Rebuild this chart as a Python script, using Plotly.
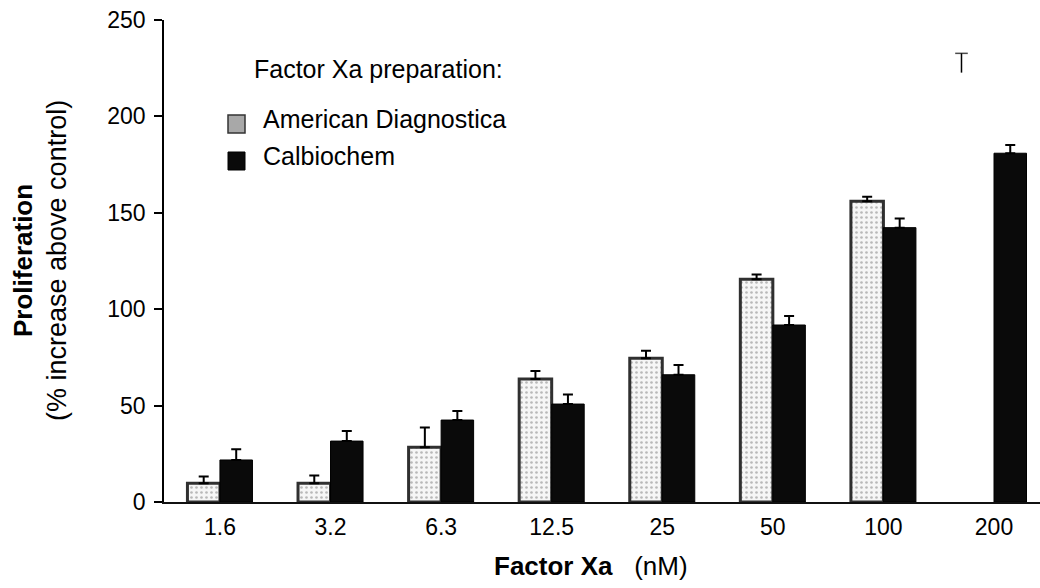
import plotly.graph_objects as go

# Factor Xa concentrations (nM) and proliferation (% increase above control)
doses = ["1.6", "3.2", "6.3", "12.5", "25", "50", "100", "200"]
american_diag = [9.7, 9.7, 28.4, 63.8, 74.5, 115.5, 156.0, None]
american_diag_err = [3.5, 4.0, 10.3, 4.1, 4.0, 2.5, 2.3, 0]
calbiochem = [21.8, 31.6, 42.5, 50.8, 66.0, 91.8, 142.3, 180.9]
calbiochem_err = [5.5, 5.2, 4.7, 5.0, 5.0, 4.7, 4.8, 4.3]

# lone error bar printed in the American Diagnostica slot at 200 nM
ad_200_top = 222.7
ad_200_err = 10.0

y_ticks = [0, 50, 100, 150, 200, 250]

W, H = 1040, 588
L, R, T, B = 164, 0, 20, 86
PW, PH = W - L - R, H - T - B
BAR_SLOT = 0.294  # width of one bar in category units
FONT = "Liberation Sans, Arial, sans-serif"


def px(x):
    return (x - L) / PW


def py(y):
    return (H - B - y) / PH


xs = list(range(len(doses)))

fig = go.Figure()

fig.add_trace(go.Bar(
    x=xs, y=american_diag, name="American Diagnostica",
    marker=dict(
        color="#f2f2f2",
        line=dict(color="#303030", width=3),
        pattern=dict(shape=".", fgcolor="#7a7a7a", bgcolor="#f6f6f6",
                     size=5, solidity=0.22),
    ),
    error_y=dict(type="data", array=american_diag_err,
                 arrayminus=[0] * len(doses), color="black",
                 thickness=2, width=5),
    showlegend=False,
))

fig.add_trace(go.Bar(
    x=xs, y=calbiochem, name="Calbiochem",
    marker=dict(color="#0a0a0a", line=dict(color="black", width=1)),
    error_y=dict(type="data", array=calbiochem_err,
                 arrayminus=[0] * len(doses), color="black",
                 thickness=2, width=5),
    showlegend=False,
))

# stem plus top cap of the lone error bar
x_lone = xs[-1] - BAR_SLOT
fig.add_trace(go.Scatter(
    x=[x_lone, x_lone], y=[ad_200_top, ad_200_top + ad_200_err],
    mode="lines+markers",
    line=dict(color="black", width=1.5),
    marker=dict(symbol="line-ew", size=[0, 9],
                line=dict(color="black", width=1.5)),
    showlegend=False, hoverinfo="skip",
))

# hand-built legend
shapes = [
    dict(type="rect", xref="paper", yref="paper",
         x0=px(228), x1=px(245), y0=py(133), y1=py(115),
         fillcolor="#a8a8a8", line=dict(color="#333", width=1.5)),
    dict(type="rect", xref="paper", yref="paper",
         x0=px(228), x1=px(245), y0=py(170), y1=py(152),
         fillcolor="#0a0a0a", line=dict(color="black", width=1)),
]

annotations = [
    dict(text="Factor Xa preparation:", x=px(252), y=py(69),
         xanchor="left", yanchor="middle", font=dict(size=25)),
    dict(text="American Diagnostica", x=px(261), y=py(119),
         xanchor="left", yanchor="middle", font=dict(size=25)),
    dict(text="Calbiochem", x=px(261), y=py(156),
         xanchor="left", yanchor="middle", font=dict(size=25)),
    dict(text="<b>Proliferation</b>", x=px(23), y=0.5, textangle=-90,
         xanchor="center", yanchor="middle", font=dict(size=26)),
    dict(text="(% increase above control)", x=px(57), y=0.5, textangle=-90,
         xanchor="center", yanchor="middle", font=dict(size=27)),
    dict(text="<b>Factor Xa</b>\u00a0\u00a0\u00a0(nM)", x=px(591), y=py(566),
         xanchor="center", yanchor="middle", font=dict(size=26)),
]
for a in annotations:
    a.update(xref="paper", yref="paper", showarrow=False)
    a["font"].update(family=FONT, color="black")

fig.update_layout(
    width=W, height=H,
    margin=dict(l=L, r=R, t=T, b=B, pad=0),
    paper_bgcolor="white", plot_bgcolor="white",
    barmode="group", bargap=1 - 2 * BAR_SLOT, bargroupgap=0,
    font=dict(family=FONT, color="black", size=23),
    shapes=shapes, annotations=annotations,
    showlegend=False,
)

fig.update_xaxes(
    range=[-0.506, 7.416],
    tickmode="array", tickvals=xs, ticktext=doses,
    showline=True, linecolor="#111", linewidth=2,
    ticks="", showgrid=False, zeroline=False,
    ticklabelstandoff=3, tickfont=dict(size=23),
)

fig.update_yaxes(
    range=[0, 250], tickmode="array", tickvals=y_ticks,
    showline=True, linecolor="black", linewidth=1.5,
    ticks="outside", ticklen=8, tickwidth=1.5, tickcolor="black",
    showgrid=False, zeroline=False,
    ticklabelstandoff=4, tickfont=dict(size=23),
)

fig.write_html("out.html")
